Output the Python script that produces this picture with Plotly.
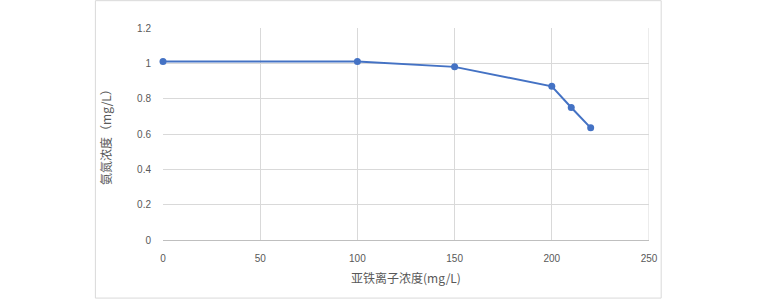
import plotly.graph_objects as go

x_vals = [0, 100, 150, 200, 210, 220]
y_vals = [1.01, 1.01, 0.98, 0.87, 0.75, 0.635]
x_ticks = [0, 50, 100, 150, 200, 250]
y_ticks = [0, 0.2, 0.4, 0.6, 0.8, 1, 1.2]
y_tick_text = ["0", "0.2", "0.4", "0.6", "0.8", "1", "1.2"]
x_title = "亚铁离子浓度(mg/L)"
y_title = "氨氮浓度（mg/L）"

W, H = 757, 300
L, R, T, B = 162.7, 649.3, 28.3, 240.0

fig = go.Figure()
fig.add_trace(go.Scatter(
    x=x_vals, y=y_vals, mode="lines+markers",
    line=dict(color="#4472C4", width=2),
    marker=dict(color="#4472C4", size=7),
    cliponaxis=False,
    showlegend=False, hoverinfo="skip"))

font_fam = "Liberation Sans, Noto Sans CJK SC, sans-serif"
fig.update_layout(
    width=W, height=H,
    margin=dict(l=L, r=W - R, t=T, b=H - B, pad=0),
    paper_bgcolor="white", plot_bgcolor="white",
    font=dict(family=font_fam, color="#595959", size=10),
    xaxis=dict(range=[0, 250], tickvals=x_ticks, showgrid=True,
               gridcolor="#d9d9d9", gridwidth=1, zeroline=False,
               showline=True, linecolor="#bfbfbf", linewidth=1,
               ticks="outside", ticklen=9, tickcolor="rgba(0,0,0,0)",
               tickfont=dict(size=10, color="#595959"),
               title=dict(text=x_title, font=dict(size=12, color="#595959",
                          family="Noto Sans CJK SC, sans-serif"), standoff=11)),
    yaxis=dict(range=[0, 1.2], tickvals=y_ticks, ticktext=y_tick_text,
               showgrid=True, gridcolor="#d9d9d9", gridwidth=1,
               zeroline=False, showline=False,
               ticks="outside", ticklen=9, tickcolor="rgba(0,0,0,0)",
               tickfont=dict(size=10, color="#595959"),
               title=dict(text=y_title, font=dict(size=12, color="#595959",
                          family="Noto Sans CJK SC, sans-serif"), standoff=22)),
)

# right edge gridline
fig.add_shape(type="line", xref="x", yref="paper", x0=250, x1=250, y0=0, y1=1,
              line=dict(color="#d9d9d9", width=1), layer="below")

# chart border
pw, ph = R - L, B - T
fig.add_shape(type="rect", xref="paper", yref="paper",
              x0=(95 - L) / pw, x1=(661.5 - L) / pw,
              y0=(B - 298) / ph, y1=(B - 1) / ph,
              line=dict(color="#d9d9d9", width=1), layer="below")

fig.write_html("out.html")
